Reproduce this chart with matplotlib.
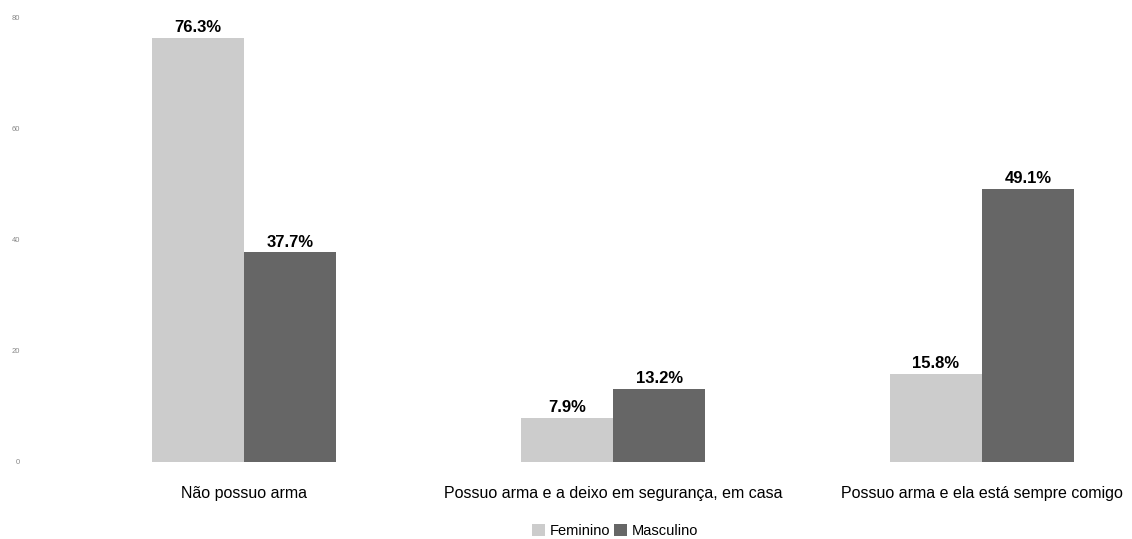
import numpy as np
import matplotlib
matplotlib.use('Agg')
import matplotlib.pyplot as plt
from matplotlib.patches import Patch

plt.rcParams['font.family'] = ['Liberation Sans', 'DejaVu Sans']

categorias = ['Não possuo arma',
              'Possuo arma e a deixo em segurança, em casa',
              'Possuo arma e ela está sempre comigo']
feminino = [76.3, 7.9, 15.8]
masculino = [37.7, 13.2, 49.1]
series = ['Feminino', 'Masculino']
cores = ['#cccccc', '#666666']

fig = plt.figure(figsize=(11.32, 5.39), dpi=100)
ax = fig.add_axes([30 / 1132, 77 / 539, 1090 / 1132, 445 / 539])

x = np.arange(len(categorias))
w = 0.25
for i, (vals, cor) in enumerate(zip([feminino, masculino], cores)):
    pos = x + (i - 0.5) * w
    ax.bar(pos, vals, width=w, color=cor, linewidth=0)
    for p, v in zip(pos, vals):
        ax.text(p, v + 0.5, f'{v}%', ha='center', va='bottom',
                fontsize=12, fontweight='bold', color='black')

ax.set_xlim(-214 / 369, 2 + 138 / 369)
ax.set_ylim(0, 80)
ax.set_yticks([0, 20, 40, 60, 80])
ax.tick_params(axis='y', length=0, labelsize=5.5, labelcolor='#888888', pad=7)
ax.set_xticks(x)
ax.set_xticklabels(categorias, fontsize=11.5)
ax.tick_params(axis='x', length=0, pad=17)
for s in ax.spines.values():
    s.set_visible(False)

handles = [Patch(facecolor=c, edgecolor='none') for c in cores]
fig.legend(handles, series, loc='center', bbox_to_anchor=(615 / 1132, 1 - 531 / 539),
           ncol=2, frameon=False, fontsize=10.5, handlelength=0.9, handleheight=0.9,
           handletextpad=0.3, columnspacing=0.3)

fig.savefig('out.png', dpi=100)
